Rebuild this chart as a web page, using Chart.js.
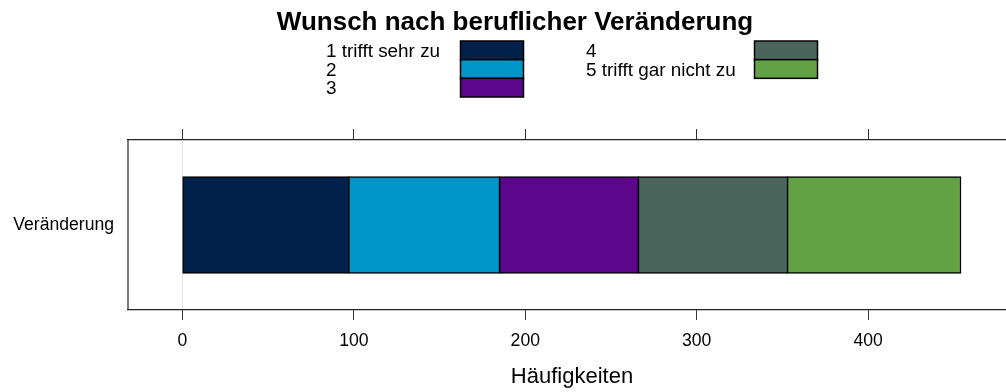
<!DOCTYPE html>
<html>
<head>
<meta charset="utf-8">
<title>Wunsch nach beruflicher Veränderung</title>
<script src="https://cdn.jsdelivr.net/npm/chart.js@4.4.0/dist/chart.umd.min.js"></script>
<style>
  html, body { margin: 0; padding: 0; background: #fff; overflow: hidden; }
  #wrap { width: 1016px; height: 392px; position: relative; }
</style>
</head>
<body>
<div id="wrap"><canvas id="myChart"></canvas></div>
<script>
// answers per category, stacked left to right
const categories = ["Veränderung"];
const seriesNames = ["1 trifft sehr zu", "2", "3", "4", "5 trifft gar nicht zu"];
const seriesValues = [[97], [88], [81], [87], [101]];
const barColors = ["#02214c", "#0094c8", "#5c068c", "#4a665c", "#62a144"];
const xTicks = [0, 100, 200, 300, 400];
const chartTitle = "Wunsch nach beruflicher Veränderung";
const xTitle = "Häufigkeiten";

const FONT = "'Liberation Sans', Arial, Helvetica, sans-serif";
Chart.defaults.font.family = FONT;
Chart.defaults.color = "#000";

function setTicks(scale){
  scale.ticks = xTicks.map(v => ({value: v}));
}

// left edge of the panel frame
const frameEdge = {
  id: "frameEdge",
  beforeDatasetsDraw(chart){
    const a = chart.chartArea, ctx = chart.ctx;
    ctx.save();
    ctx.strokeStyle = "#222";
    ctx.lineWidth = 1.2;
    ctx.beginPath();
    ctx.moveTo(a.left, a.top);
    ctx.lineTo(a.left, a.bottom);
    ctx.stroke();
    ctx.restore();
  }
};

// title + two-column key above the panel
const headerPlugin = {
  id: "header",
  afterDraw(chart){
    const ctx = chart.ctx;
    ctx.save();
    ctx.fillStyle = "#000";
    ctx.font = "bold 26px " + FONT;
    ctx.textAlign = "center";
    ctx.textBaseline = "alphabetic";
    ctx.fillText(chartTitle, 515, 30);

    ctx.font = "18.9px " + FONT;
    ctx.textAlign = "left";
    const rowH = 18.67;
    const cols = [
      {tx: 326, bx: 460.5, items: [0, 1, 2]},
      {tx: 586, bx: 754.5, items: [3, 4]}
    ];
    cols.forEach(c => {
      c.items.forEach((idx, r) => {
        const top = 41 + r * rowH;
        ctx.fillStyle = "#000";
        ctx.fillText(seriesNames[idx], c.tx, top + rowH / 2 + 6.5);
        ctx.fillStyle = barColors[idx];
        ctx.fillRect(c.bx, top, 63, rowH);
        ctx.strokeStyle = "#000";
        ctx.lineWidth = 1.5;
        ctx.strokeRect(c.bx, top, 63, rowH);
      });
    });
    ctx.restore();
  }
};

new Chart("myChart", {
  type: "bar",
  data: {
    labels: categories,
    datasets: seriesNames.map((name, i) => ({
      label: name,
      data: seriesValues[i],
      backgroundColor: barColors[i],
      borderColor: "#000",
      borderWidth: 1.4,
      inflateAmount: 0.7, // neighbours share one outline instead of two
      borderSkipped: false,
      categoryPercentage: 0.565,
      barPercentage: 1
    }))
  },
  options: {
    indexAxis: "y",
    responsive: true,
    maintainAspectRatio: false,
    devicePixelRatio: 1,
    animation: false,
    layout: {padding: 0},
    plugins: {
      legend: {display: false},
      title: {display: false},
      tooltip: {enabled: false}
    },
    scales: {
      x: {
        type: "linear",
        position: "bottom",
        stacked: true,
        min: -31.8,
        max: 486.3,
        afterBuildTicks: setTicks,
        afterFit: s => { s.height = 82; },
        grid: {
          color: c => (c.tick && c.tick.value === 0) ? "#e4e4e4" : "rgba(0,0,0,0)",
          tickColor: "#333",
          tickLength: 10,
          lineWidth: 1
        },
        border: {display: true, color: "#222", width: 1.2},
        ticks: {font: {size: 17.6}, color: "#000", padding: 11, maxRotation: 0},
        title: {
          display: true,
          text: xTitle,
          font: {size: 22},
          color: "#000",
          padding: {top: 0, bottom: 2}
        }
      },
      x2: {
        type: "linear",
        position: "top",
        min: -31.8,
        max: 486.3,
        afterBuildTicks: setTicks,
        afterFit: s => { s.height = 140; },
        grid: {drawOnChartArea: false, tickColor: "#333", tickLength: 11},
        border: {display: true, color: "#222", width: 1.2},
        ticks: {display: false}
      },
      y: {
        type: "category",
        stacked: true,
        afterFit: s => { s.width = 128; },
        grid: {display: false, drawTicks: false},
        border: {display: false},
        ticks: {font: {size: 17.6}, color: "#000", padding: 14}
      }
    }
  },
  plugins: [frameEdge, headerPlugin]
});
</script>
</body>
</html>
